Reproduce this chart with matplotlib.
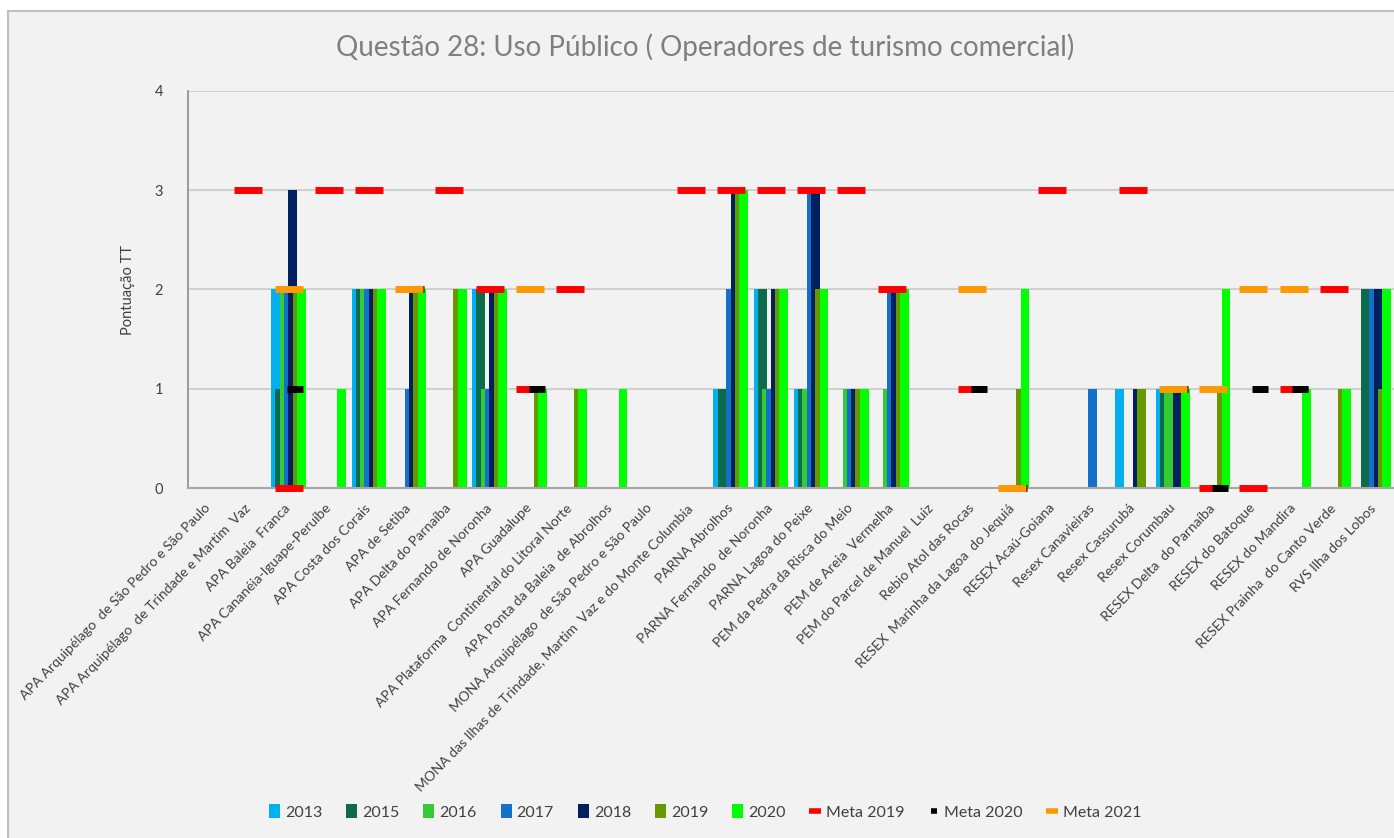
import numpy as np
import matplotlib
matplotlib.use("Agg")
import matplotlib.pyplot as plt
from matplotlib.patches import Rectangle, Patch
from matplotlib.lines import Line2D

plt.rcParams["font.family"] = ["Lato", "DejaVu Sans"]

categories = [
    "APA Arquipélago  de São Pedro e São Paulo",
    "APA Arquipélago  de Trindade e Martim  Vaz",
    "APA Baleia  Franca",
    "APA Cananéia-Iguape-Peruíbe",
    "APA Costa dos Corais",
    "APA de Setiba",
    "APA Delta do Parnaíba",
    "APA Fernando de Noronha",
    "APA Guadalupe",
    "APA Plataforma  Continental do Litoral Norte",
    "APA Ponta da Baleia  de Abrolhos",
    "MONA Arquipélago  de São Pedro e São Paulo",
    "MONA das Ilhas de Trindade, Martim  Vaz e do Monte Columbia",
    "PARNA Abrolhos",
    "PARNA Fernando  de Noronha",
    "PARNA Lagoa do Peixe",
    "PEM da Pedra da Risca do Meio",
    "PEM de Areia  Vermelha",
    "PEM do Parcel de Manuel  Luiz",
    "Rebio Atol das Rocas",
    "RESEX  Marinha da Lagoa  do Jequiá",
    "RESEX Acaú-Goiana",
    "Resex Canavieiras",
    "Resex Cassurubá",
    "Resex Corumbau",
    "RESEX Delta  do Parnaíba",
    "RESEX do Batoque",
    "RESEX do Mandira",
    "RESEX Prainha  do Canto Verde",
    "RVS Ilha dos Lobos",
]

years = ["2013", "2015", "2016", "2017", "2018", "2019", "2020"]
v2013 = [0, 0, 2, 0, 2, 0, 0, 2, 0, 0, 0, 0, 0, 1, 2, 1, 0, 0, 0, 0, 0, 0, 0, 1, 1, 0, 0, 0, 0, 0]
v2015 = [0, 0, 1, 0, 2, 0, 0, 2, 0, 0, 0, 0, 0, 1, 2, 1, 0, 0, 0, 0, 0, 0, 0, 0, 1, 0, 0, 0, 0, 2]
v2016 = [0, 0, 2, 0, 2, 0, 0, 1, 0, 0, 0, 0, 0, 0, 1, 1, 1, 1, 0, 0, 0, 0, 0, 0, 1, 0, 0, 0, 0, 0]
v2017 = [0, 0, 2, 0, 2, 1, 0, 1, 0, 0, 0, 0, 0, 2, 1, 3, 1, 2, 0, 0, 0, 0, 1, 0, 0, 0, 0, 0, 0, 2]
v2018 = [0, 0, 3, 0, 2, 2, 0, 2, 0, 0, 0, 0, 0, 3, 2, 3, 1, 2, 0, 0, 0, 0, 0, 1, 1, 0, 0, 0, 0, 2]
v2019 = [0, 0, 2, 0, 2, 2, 2, 2, 1, 1, 0, 0, 0, 3, 2, 2, 1, 2, 0, 0, 1, 0, 0, 1, 0, 1, 0, 0, 1, 1]
v2020 = [0, 0, 2, 1, 2, 2, 2, 2, 1, 1, 1, 0, 0, 3, 2, 2, 1, 2, 0, 0, 2, 0, 0, 0, 1, 2, 0, 1, 1, 2]

n = np.nan
meta2019 = [n, 3, 0, 3, 3, n, 3, 2, 1, 2, n, n, 3, 3, 3, 3, 3, 2, n, 1, n, 3, n, 3, n, 0, 0, 1, 2, n]
meta2020 = [n, n, 1, n, n, 2, n, n, 1, n, n, n, n, n, n, n, n, n, n, 1, 0, n, n, n, 1, 0, 1, 1, n, n]
meta2021 = [n, n, 2, n, n, 2, n, n, 2, n, n, n, n, n, n, n, n, n, n, 2, 0, n, n, n, 1, 1, 2, 2, n, n]

bar_colors = ["#00B0F0", "#0B6B4B", "#33CC33", "#1570C9", "#002060", "#669900", "#00FF00"]

fig = plt.figure(figsize=(13.94, 8.38), dpi=100, facecolor="white")
# chart area background with border (extends past right/bottom edge like the screenshot)
fig.patches.append(Rectangle((8 / 1394, -0.1), 1.2, 1.1 - 11 / 838,
                             transform=fig.transFigure, facecolor="#F2F2F2",
                             edgecolor="#BFBFBF", linewidth=1.5, zorder=-5))

ax = fig.add_axes([188 / 1394, 1 - 488 / 838, 1 - 188 / 1394, (488 - 91) / 838])
ax.set_facecolor("none")

x = np.arange(len(categories))
series = [v2013, v2015, v2016, v2017, v2018, v2019, v2020]
step = 0.107
width = 0.22
for i, vals in enumerate(series):
    ax.bar(x + (i - 3) * step, vals, width=width, color=bar_colors[i], zorder=2 + i * 0.01)

ax.plot(x, meta2019, linestyle="none", marker="_", markersize=20, markeredgewidth=5,
        color="#FF0000", zorder=4, clip_on=False)
ax.plot(x + 0.17, meta2020, linestyle="none", marker="_", markersize=12, markeredgewidth=5,
        color="#000000", zorder=4.1, clip_on=False)
ax.plot(x, meta2021, linestyle="none", marker="_", markersize=20, markeredgewidth=5,
        color="#FF9900", zorder=4.2, clip_on=False)

ax.set_xlim(-0.5, len(categories) - 0.5)
ax.set_ylim(0, 4)
ax.set_yticks([0, 1, 2, 3, 4])
ax.yaxis.grid(True, color="#D0D0D0", linewidth=1.5, zorder=0)
ax.set_axisbelow(True)
for s in ["top", "right"]:
    ax.spines[s].set_visible(False)
ax.spines["left"].set_color("#8C8C8C")
ax.spines["bottom"].set_color("#A6A6A6")
ax.spines["left"].set_linewidth(1.2)
ax.spines["bottom"].set_linewidth(1.5)
ax.tick_params(axis="y", length=0, pad=18, labelsize=10.5, labelcolor="#404040")
ax.tick_params(axis="x", length=0, pad=13)
ax.set_xticks(x)
ax.set_xticklabels(categories, rotation=46, ha="right", va="center", rotation_mode="anchor",
                   fontsize=10, color="#404040")
ax.set_ylabel("Pontuação TT", fontsize=10.5, color="#404040", labelpad=14)

fig.text(705 / 1394, 1 - 47 / 838, "Questão 28: Uso Público ( Operadores de turismo comercial)",
         ha="center", va="center", fontsize=20, color="#7F7F7F")

handles = [Patch(facecolor=c, label=y) for c, y in zip(bar_colors, years)]
handles += [
    Line2D([], [], linestyle="none", marker="_", markersize=9, markeredgewidth=4, color="#FF0000", label="Meta 2019"),
    Line2D([], [], linestyle="none", marker="_", markersize=4, markeredgewidth=4, color="#000000", label="Meta 2020"),
    Line2D([], [], linestyle="none", marker="_", markersize=9, markeredgewidth=4, color="#FF9900", label="Meta 2021"),
]
fig.legend(handles=handles, loc="center", bbox_to_anchor=(705 / 1394, 1 - 812 / 838), ncol=10,
           frameon=False, fontsize=11.5, handlelength=0.7, handleheight=1.0, handletextpad=0.3,
           columnspacing=1.5, labelcolor="#404040")

fig.savefig("out.png", dpi=100, facecolor="white")
